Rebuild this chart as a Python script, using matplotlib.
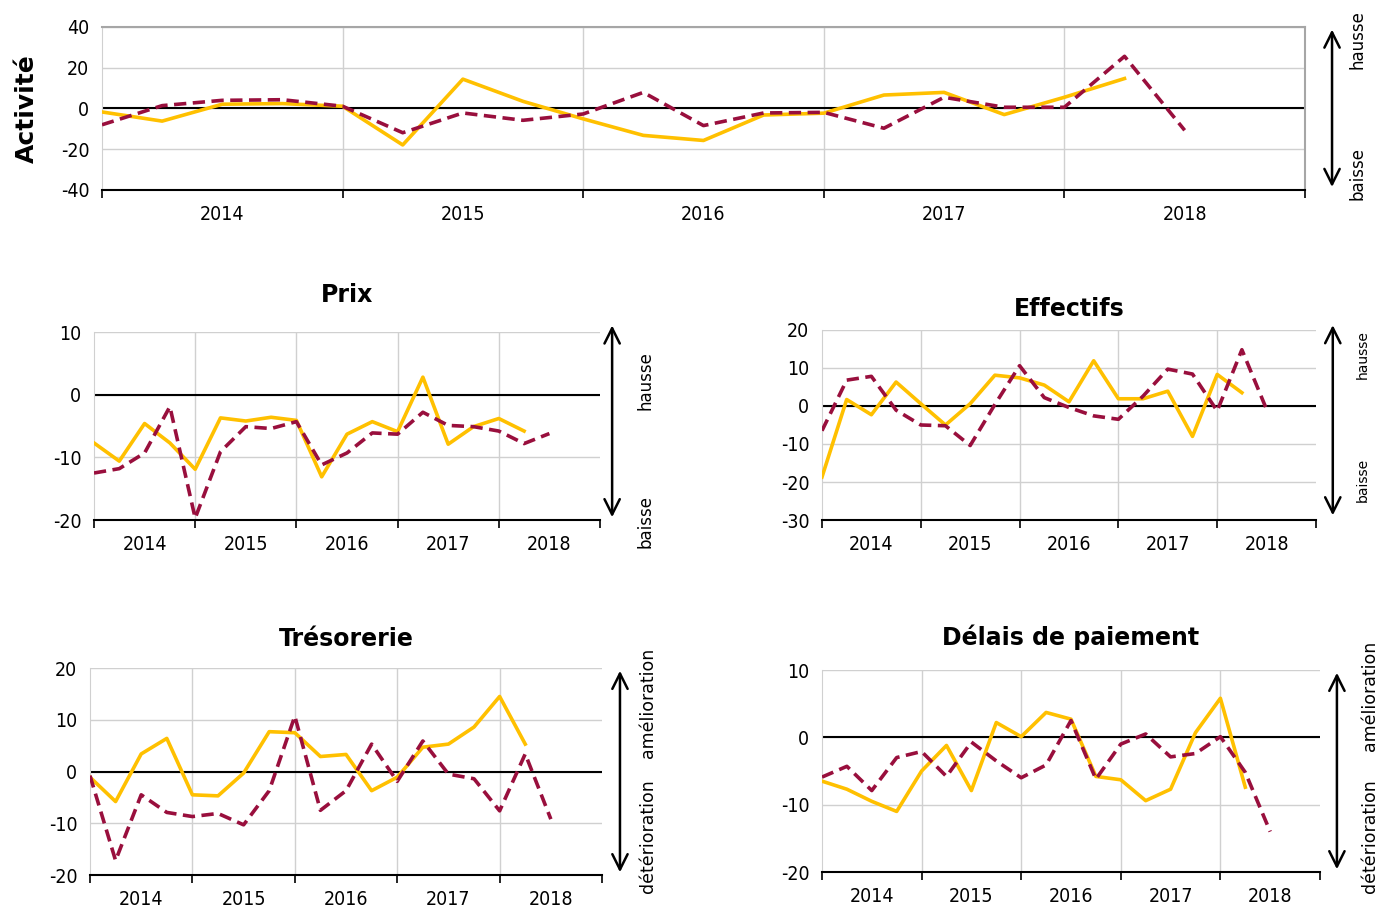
import numpy as np
import matplotlib
matplotlib.use("Agg")
import matplotlib.pyplot as plt

# quarterly balances of opinion, first quarter of 2014 onwards
years = ["2014", "2015", "2016", "2017", "2018"]

act_obs = [-1.8, -6.3, 2.0, 2.3, 1.0, -18.0, 14.3, 3.4, -5.2, -13.3, -15.8,
           -3.3, -2.4, 6.5, 7.8, -3.1, 5.4, 14.6]
act_prev = [-8.1, 1.3, 3.9, 4.2, 1.0, -12.0, -2.3, -5.9, -2.8, 7.8, -8.5,
            -2.3, -2.0, -9.8, 5.4, 0.5, 0.5, 25.5, -10.8]

prix_obs = [-7.7, -10.6, -4.6, -7.7, -11.9, -3.7, -4.2, -3.6, -4.1, -13.1,
            -6.3, -4.3, -5.9, 2.8, -7.9, -5.1, -3.8, -5.8]
prix_prev = [-12.5, -11.8, -9.3, -1.9, -19.7, -9.1, -5.1, -5.4, -4.3, -11.2,
             -9.3, -6.1, -6.3, -2.8, -4.9, -5.1, -5.8, -7.8, -6.2]

eff_obs = [-18.7, 1.7, -2.3, 6.3, 0.6, -5.0, 0.6, 8.1, 7.4, 5.5, 1.1, 11.9,
           1.9, 1.9, 3.9, -8.0, 8.3, 3.5]
eff_prev = [-6.5, 6.8, 7.8, -1.1, -5.0, -5.2, -10.4, 0.4, 10.6, 2.2, -0.4,
            -2.6, -3.5, 2.6, 9.7, 8.4, -1.3, 14.8, -0.9]

tres_obs = [-1.1, -5.8, 3.4, 6.4, -4.5, -4.7, -0.3, 7.7, 7.5, 2.9, 3.3, -3.7,
            -1.1, 4.7, 5.3, 8.6, 14.5, 5.3]
tres_prev = [-0.8, -17.2, -4.5, -7.9, -8.7, -8.1, -10.3, -3.7, 10.7, -7.5,
             -3.7, 5.3, -1.9, 5.9, -0.5, -1.4, -7.6, 3.4, -9.2]

del_obs = [-6.5, -7.7, -9.5, -11.0, -5.0, -1.2, -7.9, 2.2, 0.1, 3.7, 2.7,
           -5.8, -6.3, -9.4, -7.7, 0.7, 5.8, -7.4]
del_prev = [-5.9, -4.3, -7.9, -3.0, -2.1, -5.8, -0.7, -3.5, -6.0, -4.1, 2.5,
            -6.2, -1.0, 0.5, -2.9, -2.4, 0.1, -5.2, -14.0]

YELLOW = "#FFC000"
RED = "#990F3D"
GRID = "#d0d0d0"

plt.rcParams["font.family"] = ["DejaVu Sans"]

fig = plt.figure(figsize=(13.78, 9.08), dpi=100)


def panel(rect, obs, prev, yticks, title=None, tpad=14, frame=False):
    ax = fig.add_axes(rect)
    ax.plot(range(len(obs)), obs, color=YELLOW, lw=2.6, zorder=3)
    ax.plot(range(len(prev)), prev, color=RED, lw=2.6, ls=(0, (3.4, 1.8)), zorder=4)
    ax.axhline(0, color="black", lw=1.5, zorder=2)
    ax.set_xlim(0, 20)
    ax.set_ylim(yticks[0], yticks[-1])
    ax.set_yticks(yticks)
    ax.set_yticklabels([str(v) for v in yticks], fontsize=14, fontstretch="condensed")
    ax.tick_params(axis="y", length=0, pad=9)
    # year boundaries as major ticks, year names in between
    ax.set_xticks(range(0, 21, 4))
    ax.set_xticklabels([])
    ax.set_xticks(np.arange(2, 20, 4), minor=True)
    ax.set_xticklabels(years, minor=True, fontsize=14, fontstretch="condensed")
    ax.tick_params(axis="x", which="major", length=6, width=1.2, direction="out")
    ax.tick_params(axis="x", which="minor", length=0, pad=11)
    for v in yticks:
        ax.axhline(v, color=GRID, lw=1, zorder=1)
    for x in range(4, 20, 4):
        ax.axvline(x, color=GRID, lw=1, zorder=1)
    ax.spines["bottom"].set_color("black")
    ax.spines["bottom"].set_linewidth(1.5)
    ax.spines["left"].set_color(GRID)
    if frame:
        for s in ("top", "right"):
            ax.spines[s].set_color("#a6a6a6")
            ax.spines[s].set_linewidth(1.5)
    else:
        ax.spines["top"].set_visible(False)
        ax.spines["right"].set_visible(False)
    if title:
        ax.set_title(title, fontsize=17, fontweight="bold", pad=tpad)
    return ax


def side_arrow(ax, xa, y0, y1, xt, up, down, yu, yd, fs):
    ax.annotate("", xy=(xa, y1), xytext=(xa, y0), xycoords="axes fraction",
                arrowprops=dict(arrowstyle="<->,head_length=1.1,head_width=0.55",
                                lw=1.8, color="black"), annotation_clip=False)
    ax.text(xt, yu, up, transform=ax.transAxes, rotation=90, ha="center",
            va="center", fontsize=fs)
    ax.text(xt, yd, down, transform=ax.transAxes, rotation=90, ha="center",
            va="center", fontsize=fs)


ax0 = panel([0.074, 0.791, 0.873, 0.1795], act_obs, act_prev,
            [-40, -20, 0, 20, 40], frame=True)
ax0.set_ylabel("Activité", fontsize=18, fontweight="bold", labelpad=16)
side_arrow(ax0, 1.0225, 0.0, 1.0, 1.044, "hausse", "baisse", 0.92, 0.1, 12)

ax1 = panel([0.0682, 0.4273, 0.3672, 0.2070], prix_obs, prix_prev,
            [-20, -10, 0, 10], title="Prix", tpad=22)
side_arrow(ax1, 1.024, 0.0, 1.05, 1.09, "hausse", "baisse", 0.74, -0.01, 12)

ax2 = panel([0.5965, 0.4273, 0.3585, 0.2093], eff_obs, eff_prev,
            [-30, -20, -10, 0, 10, 20], title="Effectifs", tpad=10)
side_arrow(ax2, 1.034, 0.01, 1.04, 1.095, "hausse", "baisse", 0.87, 0.21, 10)

ax3 = panel([0.0653, 0.0363, 0.3716, 0.228], tres_obs, tres_prev,
            [-20, -10, 0, 10, 20], title="Trésorerie", tpad=16)
side_arrow(ax3, 1.035, 0.0, 1.0, 1.09, "amélioration", "détérioration",
           0.83, 0.19, 12.5)

ax4 = panel([0.5965, 0.0396, 0.3614, 0.2225], del_obs, del_prev,
            [-20, -10, 0, 10], title="Délais de paiement", tpad=18)
side_arrow(ax4, 1.034, 0.0, 1.0, 1.1, "amélioration", "détérioration",
           0.87, 0.18, 12.5)

fig.savefig("out.png", dpi=100)
